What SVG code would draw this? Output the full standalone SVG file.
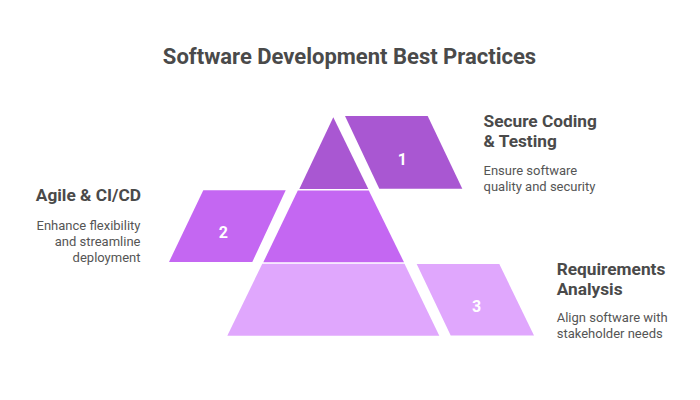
<svg xmlns="http://www.w3.org/2000/svg" width="700" height="400" viewBox="0 0 700 400">
<style>
.title{font-family:Roboto,"Liberation Sans",sans-serif;font-weight:bold;font-size:22px;fill:#4a4a4a}
.head{font-family:Roboto,"Liberation Sans",sans-serif;font-weight:bold;font-size:17.3px;fill:#4a4a4a}
.desc{font-family:Roboto,"Liberation Sans",sans-serif;font-size:13px;fill:#555555}
.num{font-family:Roboto,"Liberation Sans",sans-serif;font-weight:bold;font-size:16px;fill:#ffffff;text-anchor:middle}
.l1{fill:#a957d2}
.l2{fill:#c467f2}
.l3{fill:#e0a7fd}
</style>
<rect width="700" height="400" fill="#ffffff"/>
<text class="title" x="349.5" y="64" text-anchor="middle">Software Development Best Practices</text>
<g id="node1">
<polygon class="l1" points="333.3,117.3 368.3,189 299.3,189"/>
<polygon class="l1" points="345,116 427.7,116 462.3,188.7 379.3,188.7"/>
<text class="num" x="402.3" y="164.5">1</text>
<text class="head" x="483.5" y="127">Secure Coding</text>
<text class="head" x="483.5" y="147">&amp; Testing</text>
<text class="desc" x="483.5" y="174.5">Ensure software</text>
<text class="desc" x="483.5" y="190.5">quality and security</text>
</g>
<g id="node2">
<polygon class="l2" points="297.8,190.5 368.8,190.5 404,262.3 263.3,262.3"/>
<polygon class="l2" points="203.3,190.3 285.7,190.3 252.3,262 169,262"/>
<text class="num" x="223.3" y="237.5">2</text>
<text class="head" x="141" y="201" text-anchor="end">Agile &amp; CI/CD</text>
<text class="desc" x="140.5" y="230" text-anchor="end">Enhance flexibility</text>
<text class="desc" x="140.5" y="246" text-anchor="end">and streamline</text>
<text class="desc" x="140.5" y="262" text-anchor="end">deployment</text>
</g>
<g id="node3">
<polygon class="l3" points="262.3,263.8 404.5,263.8 439.3,335.7 227.3,335.7"/>
<polygon class="l3" points="416.7,264 499.3,264 534,335.5 450.7,335.5"/>
<text class="num" x="476.7" y="311.5">3</text>
<text class="head" x="556.7" y="275">Requirements</text>
<text class="head" x="556.7" y="295">Analysis</text>
<text class="desc" x="556.7" y="322">Align software with</text>
<text class="desc" x="556.7" y="338">stakeholder needs</text>
</g>
<g id="connectors"></g>
</svg>
